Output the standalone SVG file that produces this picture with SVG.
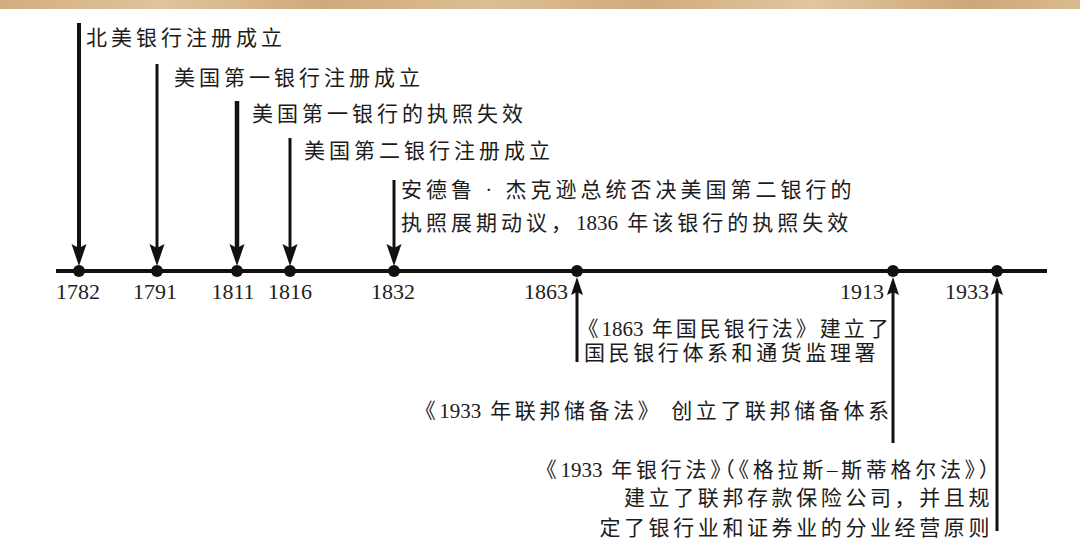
<svg xmlns="http://www.w3.org/2000/svg" width="1080" height="555" viewBox="0 0 1080 555">
<defs>
  <linearGradient id="band" x1="0" x2="1" y1="0" y2="0">
    <stop offset="0" stop-color="#d2ad80"/>
    <stop offset="0.15" stop-color="#e0c49c"/>
    <stop offset="0.3" stop-color="#cfa97b"/>
    <stop offset="0.45" stop-color="#dcbe94"/>
    <stop offset="0.6" stop-color="#d0ab7e"/>
    <stop offset="0.75" stop-color="#e1c6a0"/>
    <stop offset="0.9" stop-color="#cda678"/>
    <stop offset="1" stop-color="#d9bb90"/>
  </linearGradient>
  <marker id="ad" markerUnits="userSpaceOnUse" markerWidth="24" markerHeight="18" viewBox="0 -9 24 18" refX="12" refY="0" orient="auto">
    <path d="M0,-7.5 L22,0 L0,7.5 L4,0 z" fill="#111"/>
  </marker>
  <marker id="au" markerUnits="userSpaceOnUse" markerWidth="20" markerHeight="14" viewBox="0 -7 20 14" refX="8" refY="0" orient="auto">
    <path d="M0,-6 L18,0 L0,6 L3,0 z" fill="#111"/>
  </marker>
</defs>
<style>
  .lbl{font-family:'Liberation Serif','Noto Sans CJK SC',serif;font-size:21px;letter-spacing:4px;fill:#1c1c1c}
  .d{letter-spacing:0px}
  .h{font-feature-settings:"halt"}
  .yr{font-family:'Liberation Serif',serif;font-size:22px;fill:#222}
  .ax{stroke:#111;stroke-width:4;fill:none}
  .dot{fill:#111}
  .con{stroke:#111;fill:none}
</style>
<rect x="0" y="0" width="1080" height="555" fill="#ffffff"/>
<rect x="0" y="0" width="1080" height="9" fill="url(#band)"/>

<g id="axis">
  <line class="ax" x1="56" y1="271" x2="1047" y2="271"/>
</g>

<g id="connectors">
  <line class="con" x1="79" y1="23" x2="79" y2="256" stroke-width="4" marker-end="url(#ad)"/>
  <line class="con" x1="157" y1="64" x2="157" y2="256" stroke-width="3" marker-end="url(#ad)"/>
  <line class="con" x1="237" y1="101" x2="237" y2="256" stroke-width="4.5" marker-end="url(#ad)"/>
  <line class="con" x1="290" y1="138" x2="290" y2="256" stroke-width="3" marker-end="url(#ad)"/>
  <line class="con" x1="394" y1="180" x2="394" y2="256" stroke-width="3" marker-end="url(#ad)"/>
  <line class="con" x1="577" y1="362" x2="577" y2="287" stroke-width="3" marker-end="url(#au)"/>
  <line class="con" x1="893" y1="443" x2="893" y2="287" stroke-width="3" marker-end="url(#au)"/>
  <line class="con" x1="997" y1="531" x2="997" y2="287" stroke-width="3" marker-end="url(#au)"/>
</g>

<g id="node-1782">
  <circle class="dot" cx="79" cy="271" r="6"/>
  <text class="yr" x="78" y="299" text-anchor="middle">1782</text>
  <text class="lbl" x="86" y="45">北美银行注册成立</text>
</g>
<g id="node-1791">
  <circle class="dot" cx="157" cy="271" r="6"/>
  <text class="yr" x="155" y="299" text-anchor="middle">1791</text>
  <text class="lbl" x="174" y="85">美国第一银行注册成立</text>
</g>
<g id="node-1811">
  <circle class="dot" cx="237" cy="271" r="6"/>
  <text class="yr" x="233" y="299" text-anchor="middle">1811</text>
  <text class="lbl" x="252" y="121">美国第一银行的执照失效</text>
</g>
<g id="node-1816">
  <circle class="dot" cx="290" cy="271" r="6"/>
  <text class="yr" x="290" y="299" text-anchor="middle">1816</text>
  <text class="lbl" x="304" y="158">美国第二银行注册成立</text>
</g>
<g id="node-1832">
  <circle class="dot" cx="394" cy="271" r="6"/>
  <text class="yr" x="393" y="299" text-anchor="middle">1832</text>
  <text class="lbl" x="401" y="197">安德鲁 · 杰克逊总统否决美国第二银行的</text>
  <text class="lbl" x="401" y="230">执照展期动议，<tspan class="d">1836</tspan> 年该银行的执照失效</text>
</g>
<g id="node-1863">
  <circle class="dot" cx="577" cy="271" r="6"/>
  <text class="yr" x="568" y="299" text-anchor="end">1863</text>
  <text class="lbl" x="588" y="336" style="letter-spacing:3px"><tspan class="h">《</tspan><tspan class="d">1863</tspan> 年国民银行法》建立了</text>
  <text class="lbl" x="584" y="360" style="letter-spacing:3.6px">国民银行体系和通货监理署</text>
</g>
<g id="node-1913">
  <circle class="dot" cx="893" cy="271" r="6"/>
  <text class="yr" x="884" y="299" text-anchor="end">1913</text>
  <text class="lbl" x="892.6" y="418" text-anchor="end" style="letter-spacing:3.6px"><tspan class="h">《</tspan><tspan class="d">1933</tspan> 年联邦储备法》 创立了联邦储备体系</text>
</g>
<g id="node-1933">
  <circle class="dot" cx="997" cy="271" r="6"/>
  <text class="yr" x="989" y="299" text-anchor="end">1933</text>
  <text class="lbl" x="993" y="477" text-anchor="end" style="letter-spacing:3.7px"><tspan class="h">《</tspan><tspan class="d">1933</tspan> 年银行法<tspan class="h">》（《</tspan>格拉斯–斯蒂格尔法<tspan class="h">》）</tspan></text>
  <text class="lbl" x="993" y="505" text-anchor="end" style="letter-spacing:3.6px">建立了联邦存款保险公司，并且规</text>
  <text class="lbl" x="993" y="535" text-anchor="end" style="letter-spacing:3.6px">定了银行业和证券业的分业经营原则</text>
</g>
</svg>
